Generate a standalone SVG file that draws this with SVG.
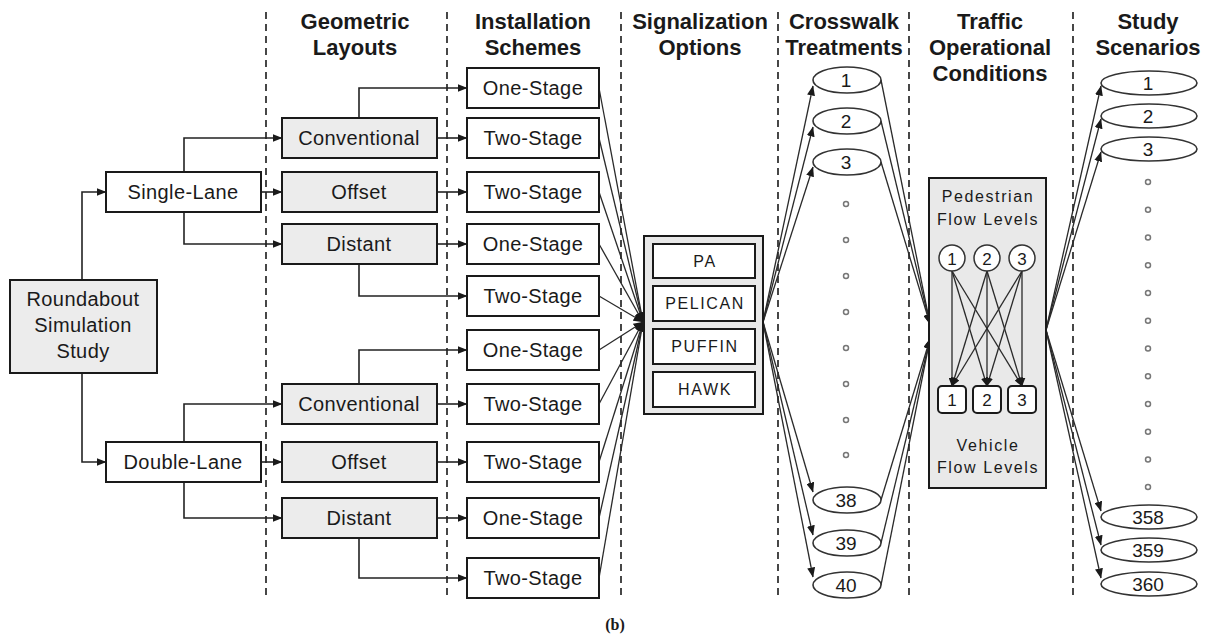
<svg xmlns="http://www.w3.org/2000/svg" width="1212" height="634" viewBox="0 0 1212 634">
<defs>
<marker id="ah" markerWidth="10" markerHeight="8" refX="9.5" refY="4" orient="auto" markerUnits="userSpaceOnUse"><path d="M0,0 L10,4 L0,8 z" fill="#1a1a1a"/></marker>
<marker id="ahs" markerWidth="9" markerHeight="7" refX="8.5" refY="3.5" orient="auto" markerUnits="userSpaceOnUse"><path d="M0,0 L9,3.5 L0,7 z" fill="#1a1a1a"/></marker>
<style>
.hdr{font-family:"Liberation Sans",Arial,sans-serif;font-weight:bold;font-size:22px;fill:#1a1a1a;text-anchor:middle}
.t{font-family:"Liberation Sans",Arial,sans-serif;font-size:20px;fill:#1a1a1a;text-anchor:middle;letter-spacing:0.4px}
.s{font-family:"Liberation Sans",Arial,sans-serif;font-size:16px;fill:#1a1a1a;text-anchor:middle;letter-spacing:1.6px}
.n{font-family:"Liberation Sans",Arial,sans-serif;font-size:19px;fill:#1a1a1a;text-anchor:middle}
.box{fill:#fff;stroke:#1a1a1a;stroke-width:2}
.gbox{fill:#ececec;stroke:#1a1a1a;stroke-width:2}
.ell{fill:#fff;stroke:#333;stroke-width:1.6}
.dot{fill:#fff;stroke:#777;stroke-width:1.5}
.dash{stroke:#1a1a1a;stroke-width:1.6;stroke-dasharray:7,5;fill:none}
.c{fill:none;stroke:#222;stroke-width:1.6;marker-end:url(#ah)}
.d{fill:none;stroke:#2a2a2a;stroke-width:1.3;marker-end:url(#ah)}
.i{fill:none;stroke:#2a2a2a;stroke-width:1.3;marker-end:url(#ahs)}
</style>
</defs>
<rect width="1212" height="634" fill="#fff"/>

<g id="dividers">
<line class="dash" x1="266" y1="12" x2="266" y2="596"/>
<line class="dash" x1="447" y1="12" x2="447" y2="596"/>
<line class="dash" x1="621" y1="12" x2="621" y2="596"/>
<line class="dash" x1="778" y1="12" x2="778" y2="596"/>
<line class="dash" x1="909" y1="12" x2="909" y2="596"/>
<line class="dash" x1="1073" y1="12" x2="1073" y2="596"/>
</g>

<g id="headers">
<text class="hdr" x="355" y="29">Geometric</text><text class="hdr" x="355" y="55">Layouts</text>
<text class="hdr" x="533" y="29">Installation</text><text class="hdr" x="533" y="55">Schemes</text>
<text class="hdr" x="700" y="29">Signalization</text><text class="hdr" x="700" y="55">Options</text>
<text class="hdr" x="844" y="29">Crosswalk</text><text class="hdr" x="844" y="55">Treatments</text>
<text class="hdr" x="990" y="29">Traffic</text><text class="hdr" x="990" y="55">Operational</text><text class="hdr" x="990" y="81">Conditions</text>
<text class="hdr" x="1148" y="29">Study</text><text class="hdr" x="1148" y="55">Scenarios</text>
</g>

<g id="connectors">
<path class="c" d="M82,280 V192 H106"/>
<path class="c" d="M82,373 V462 H106"/>
<path class="c" d="M184,172 V138 H282"/>
<path class="c" d="M261,192 H282"/>
<path class="c" d="M184,212 V244 H282"/>
<path class="c" d="M184,442 V404 H282"/>
<path class="c" d="M261,462 H282"/>
<path class="c" d="M184,482 V518 H282"/>
<path class="c" d="M359,118 V88 H467"/>
<path class="c" d="M437,138 H467"/>
<path class="c" d="M437,192 H467"/>
<path class="c" d="M437,244 H467"/>
<path class="c" d="M359,264 V296 H467"/>
<path class="c" d="M359,384 V350 H467"/>
<path class="c" d="M437,404 H467"/>
<path class="c" d="M437,462 H467"/>
<path class="c" d="M437,518 H467"/>
<path class="c" d="M359,538 V578 H467"/>
<path class="d" d="M599,88 L643,322"/>
<path class="d" d="M599,138 L643,322"/>
<path class="d" d="M599,192 L643,322"/>
<path class="d" d="M599,244 L643,322"/>
<path class="d" d="M599,296 L643,322"/>
<path class="d" d="M599,350 L643,322"/>
<path class="d" d="M599,404 L643,322"/>
<path class="d" d="M599,462 L643,322"/>
<path class="d" d="M599,518 L643,322"/>
<path class="d" d="M599,578 L643,322"/>
<path class="d" d="M763,322 L813,86"/>
<path class="d" d="M763,322 L813,127"/>
<path class="d" d="M763,322 L813,167"/>
<path class="d" d="M763,322 L813,492"/>
<path class="d" d="M763,322 L813,535"/>
<path class="d" d="M763,322 L813,577"/>
<path class="d" d="M881,80 L930,324"/>
<path class="d" d="M881,121 L930,324"/>
<path class="d" d="M881,162 L930,324"/>
<path class="d" d="M881,500 L930,339"/>
<path class="d" d="M881,543 L930,339"/>
<path class="d" d="M881,585 L930,339"/>
<path class="d" d="M1046,330 L1101,86"/>
<path class="d" d="M1046,330 L1101,119"/>
<path class="d" d="M1046,330 L1101,152"/>
<path class="d" d="M1046,330 L1101,511"/>
<path class="d" d="M1046,330 L1101,545"/>
<path class="d" d="M1046,330 L1101,578"/>
</g>

<g id="roundabout"><rect class="gbox" x="10" y="280" width="147" height="93"/>
<text class="t" x="83" y="306">Roundabout</text><text class="t" x="83" y="332">Simulation</text><text class="t" x="83" y="358">Study</text></g>
<g id="single-lane"><rect class="box" x="106" y="172" width="155" height="40"/><text class="t" x="183" y="199">Single-Lane</text></g>
<g id="double-lane"><rect class="box" x="106" y="442" width="155" height="40"/><text class="t" x="183" y="469">Double-Lane</text></g>

<g id="geo-conv1"><rect class="gbox" x="282" y="118" width="155" height="40"/><text class="t" x="359" y="145">Conventional</text></g>
<g id="geo-off1"><rect class="gbox" x="282" y="172" width="155" height="40"/><text class="t" x="359" y="199">Offset</text></g>
<g id="geo-dist1"><rect class="gbox" x="282" y="224" width="155" height="40"/><text class="t" x="359" y="251">Distant</text></g>
<g id="geo-conv2"><rect class="gbox" x="282" y="384" width="155" height="40"/><text class="t" x="359" y="411">Conventional</text></g>
<g id="geo-off2"><rect class="gbox" x="282" y="442" width="155" height="40"/><text class="t" x="359" y="469">Offset</text></g>
<g id="geo-dist2"><rect class="gbox" x="282" y="498" width="155" height="40"/><text class="t" x="359" y="525">Distant</text></g>

<g id="inst1"><rect class="box" x="467" y="68" width="132" height="40"/><text class="t" x="533" y="95">One-Stage</text></g>
<g id="inst2"><rect class="box" x="467" y="118" width="132" height="40"/><text class="t" x="533" y="145">Two-Stage</text></g>
<g id="inst3"><rect class="box" x="467" y="172" width="132" height="40"/><text class="t" x="533" y="199">Two-Stage</text></g>
<g id="inst4"><rect class="box" x="467" y="224" width="132" height="40"/><text class="t" x="533" y="251">One-Stage</text></g>
<g id="inst5"><rect class="box" x="467" y="276" width="132" height="40"/><text class="t" x="533" y="303">Two-Stage</text></g>
<g id="inst6"><rect class="box" x="467" y="330" width="132" height="40"/><text class="t" x="533" y="357">One-Stage</text></g>
<g id="inst7"><rect class="box" x="467" y="384" width="132" height="40"/><text class="t" x="533" y="411">Two-Stage</text></g>
<g id="inst8"><rect class="box" x="467" y="442" width="132" height="40"/><text class="t" x="533" y="469">Two-Stage</text></g>
<g id="inst9"><rect class="box" x="467" y="498" width="132" height="40"/><text class="t" x="533" y="525">One-Stage</text></g>
<g id="inst10"><rect class="box" x="467" y="558" width="132" height="40"/><text class="t" x="533" y="585">Two-Stage</text></g>

<g id="signalization">
<rect x="644" y="236" width="119" height="178" fill="#e8e8e8" stroke="#1a1a1a" stroke-width="2"/>
<rect class="box" x="653" y="244" width="102" height="34"/><text class="s" x="705" y="267">PA</text>
<rect class="box" x="653" y="286" width="102" height="35"/><text class="s" x="705" y="309">PELICAN</text>
<rect class="box" x="653" y="329" width="102" height="35"/><text class="s" x="705" y="352">PUFFIN</text>
<rect class="box" x="653" y="372" width="102" height="35"/><text class="s" x="705" y="395">HAWK</text>
</g>

<g id="crosswalk">
<ellipse class="ell" cx="847" cy="80" rx="34" ry="13"/><text class="n" x="846" y="87">1</text>
<ellipse class="ell" cx="847" cy="121" rx="34" ry="13"/><text class="n" x="846" y="128">2</text>
<ellipse class="ell" cx="847" cy="162" rx="34" ry="13"/><text class="n" x="846" y="169">3</text>
<circle class="dot" cx="846" cy="204" r="2.5"/><circle class="dot" cx="846" cy="240" r="2.5"/>
<circle class="dot" cx="846" cy="276" r="2.5"/><circle class="dot" cx="846" cy="312" r="2.5"/>
<circle class="dot" cx="846" cy="348" r="2.5"/><circle class="dot" cx="846" cy="384" r="2.5"/>
<circle class="dot" cx="846" cy="420" r="2.5"/><circle class="dot" cx="846" cy="455" r="2.5"/>
<ellipse class="ell" cx="847" cy="500" rx="34" ry="13"/><text class="n" x="846" y="507">38</text>
<ellipse class="ell" cx="847" cy="543" rx="34" ry="13"/><text class="n" x="846" y="550">39</text>
<ellipse class="ell" cx="847" cy="585" rx="34" ry="13"/><text class="n" x="846" y="592">40</text>
</g>

<g id="traffic">
<rect x="929" y="178" width="117" height="310" fill="#e9e9e9" stroke="#1a1a1a" stroke-width="2"/>
<text class="s" x="988" y="202">Pedestrian</text>
<text class="s" x="988" y="225">Flow Levels</text>
<g class="inner">
<path class="i" d="M952,271 L952,386"/><path class="i" d="M952,271 L987,386"/><path class="i" d="M952,271 L1022,386"/>
<path class="i" d="M987,271 L952,386"/><path class="i" d="M987,271 L987,386"/><path class="i" d="M987,271 L1022,386"/>
<path class="i" d="M1022,271 L952,386"/><path class="i" d="M1022,271 L987,386"/><path class="i" d="M1022,271 L1022,386"/>
</g>
<circle cx="952" cy="258" r="13" fill="#fff" stroke="#333" stroke-width="1.5"/><text class="n" x="952" y="265" style="font-size:17px">1</text>
<circle cx="987" cy="258" r="13" fill="#fff" stroke="#333" stroke-width="1.5"/><text class="n" x="987" y="265" style="font-size:17px">2</text>
<circle cx="1022" cy="258" r="13" fill="#fff" stroke="#333" stroke-width="1.5"/><text class="n" x="1022" y="265" style="font-size:17px">3</text>
<rect x="938" y="386" width="28" height="27" rx="4" fill="#fff" stroke="#1a1a1a" stroke-width="2"/><text class="n" x="952" y="406" style="font-size:17px">1</text>
<rect x="973" y="386" width="28" height="27" rx="4" fill="#fff" stroke="#1a1a1a" stroke-width="2"/><text class="n" x="987" y="406" style="font-size:17px">2</text>
<rect x="1008" y="386" width="28" height="27" rx="4" fill="#fff" stroke="#1a1a1a" stroke-width="2"/><text class="n" x="1022" y="406" style="font-size:17px">3</text>
<text class="s" x="988" y="451">Vehicle</text>
<text class="s" x="988" y="473">Flow Levels</text>
</g>

<g id="scenarios">
<ellipse class="ell" cx="1149" cy="83" rx="48" ry="12"/><text class="n" x="1148" y="90">1</text>
<ellipse class="ell" cx="1149" cy="116" rx="48" ry="12"/><text class="n" x="1148" y="123">2</text>
<ellipse class="ell" cx="1149" cy="149" rx="48" ry="12"/><text class="n" x="1148" y="156">3</text>
<circle class="dot" cx="1148" cy="182" r="2.5"/><circle class="dot" cx="1148" cy="209.7" r="2.5"/>
<circle class="dot" cx="1148" cy="237.5" r="2.5"/><circle class="dot" cx="1148" cy="265.2" r="2.5"/>
<circle class="dot" cx="1148" cy="293" r="2.5"/><circle class="dot" cx="1148" cy="320.7" r="2.5"/>
<circle class="dot" cx="1148" cy="348.5" r="2.5"/><circle class="dot" cx="1148" cy="376.2" r="2.5"/>
<circle class="dot" cx="1148" cy="404" r="2.5"/><circle class="dot" cx="1148" cy="431.7" r="2.5"/>
<circle class="dot" cx="1148" cy="459.5" r="2.5"/><circle class="dot" cx="1148" cy="487" r="2.5"/>
<ellipse class="ell" cx="1149" cy="517" rx="48" ry="12"/><text class="n" x="1148" y="524">358</text>
<ellipse class="ell" cx="1149" cy="550" rx="48" ry="12"/><text class="n" x="1148" y="557">359</text>
<ellipse class="ell" cx="1149" cy="584" rx="48" ry="12"/><text class="n" x="1148" y="591">360</text>
</g>

<text x="615" y="630" style="font-family:'Liberation Serif','Times New Roman',serif;font-weight:bold;font-size:16px;fill:#1a1a1a;text-anchor:middle">(b)</text>
</svg>
